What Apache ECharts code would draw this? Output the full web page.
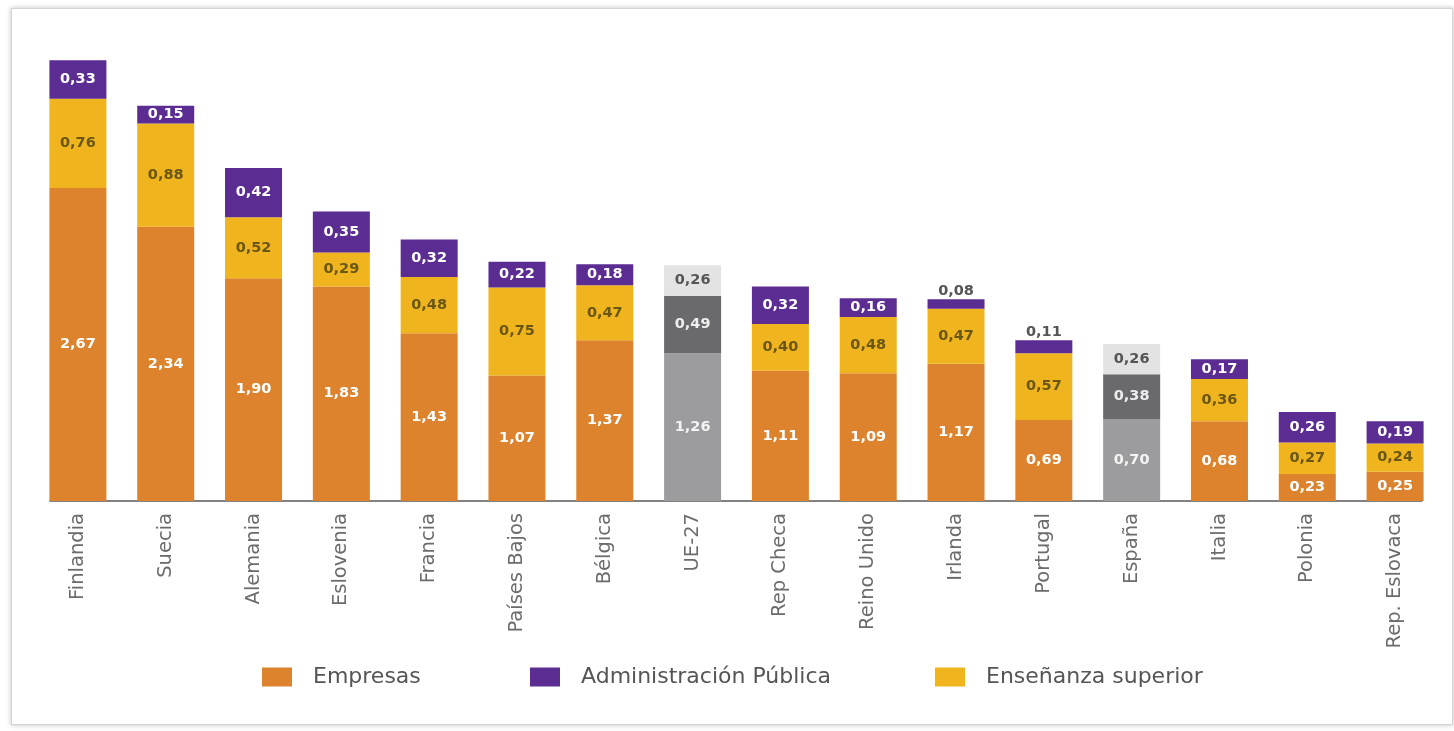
<!DOCTYPE html>
<html>
<head>
<meta charset="utf-8">
<script src="https://cdn.jsdelivr.net/npm/echarts@6/dist/echarts.min.js"></script>
<style>
  html, body { margin: 0; padding: 0; background: #fff; }
  #frame { position: absolute; left: 11px; top: 8px; width: 1440px; height: 715px;
           border: 1px solid #d4d4d4; box-shadow: 0 0 5px rgba(0,0,0,0.25); background: #fff; }
  #chart { position: absolute; left: 0; top: 0; width: 1454px; height: 731px; }
</style>
</head>
<body>
<div id="frame"></div>
<div id="chart"></div>
<script>
const categories = ['Finlandia','Suecia','Alemania','Eslovenia','Francia','Países Bajos','Bélgica','UE-27','Rep Checa','Reino Unido','Irlanda','Portugal','España','Italia','Polonia','Rep. Eslovaca'];
const empresas   = [2.67,2.34,1.90,1.83,1.43,1.07,1.37,1.26,1.11,1.09,1.17,0.69,0.70,0.68,0.23,0.25];
const ensenanza  = [0.76,0.88,0.52,0.29,0.48,0.75,0.47,0.49,0.40,0.48,0.47,0.57,0.38,0.36,0.27,0.24];
const admin      = [0.33,0.15,0.42,0.35,0.32,0.22,0.18,0.26,0.32,0.16,0.08,0.11,0.26,0.17,0.26,0.19];
const highlighted = ['UE-27','España'];
const seriesNames = ['Empresas','Enseñanza superior','Administración Pública'];

const COLORS = { emp: '#DD832D', ens: '#EFB41E', adm: '#5B2C92' };
const GREY = { emp: '#9c9c9e', ens: '#6a6a6c', adm: '#e3e3e3' };
const fmt = v => v.toFixed(2).replace('.', ',');

function makeData(values, key, greyLabelColor) {
  return values.map((v, i) => {
    const isGrey = highlighted.includes(categories[i]);
    const item = { value: v };
    if (isGrey) {
      item.itemStyle = { color: GREY[key] };
      item.label = { color: greyLabelColor };
    }
    if (key === 'adm' && !isGrey && v < 0.12) {
      item.label = { position: 'top', color: '#555', distance: 1 };
    }
    return item;
  });
}

const baseLabel = (color) => ({
  show: true, position: 'inside', color: color,
  fontFamily: 'DejaVu Sans', fontWeight: 'bold', fontSize: 14.5,
  formatter: p => fmt(p.value)
});

const chart = echarts.init(document.getElementById('chart'), null, { renderer: 'canvas' });
const legendCommon = {
  icon: 'rect', itemWidth: 30, itemHeight: 19, top: 661, selectedMode: false,
  textStyle: { fontFamily: 'DejaVu Sans', fontSize: 22, color: '#555', padding: [0, 0, 0, 16] }
};
chart.setOption({
  animation: false,
  backgroundColor: 'transparent',
  legend: [
    Object.assign({ left: 257, data: ['Empresas'] }, legendCommon),
    Object.assign({ left: 525, data: ['Administración Pública'] }, legendCommon),
    Object.assign({ left: 930, data: ['Enseñanza superior'] }, legendCommon)
  ],
  grid: [
    { left: 34, right: 15, top: 32, bottom: 230 },
    { left: 50, right: 32, top: 32, bottom: 230 }
  ],
  xAxis: [
    {
      type: 'category', data: categories, gridIndex: 0,
      axisLine: { show: false }, axisTick: { show: false },
      axisLabel: { rotate: 90, margin: 12, color: '#6b6b6b', fontFamily: 'DejaVu Sans', fontSize: 19.5, interval: 0 }
    },
    {
      type: 'category', data: [''], gridIndex: 1,
      axisLine: { show: true, lineStyle: { color: '#5a5a5a', width: 1.5 } },
      axisTick: { show: false }, axisLabel: { show: false }
    }
  ],
  yAxis: [
    { type: 'value', min: 0, max: 4, gridIndex: 0, show: false },
    { type: 'value', min: 0, max: 4, gridIndex: 1, show: false }
  ],
  series: [
    {
      name: seriesNames[0], type: 'bar', stack: 'total', barWidth: 57,
      itemStyle: { color: COLORS.emp }, label: baseLabel('#fff'),
      emphasis: { disabled: true },
      data: makeData(empresas, 'emp', '#f4f4f4')
    },
    {
      name: seriesNames[1], type: 'bar', stack: 'total', barWidth: 57,
      itemStyle: { color: COLORS.ens }, label: baseLabel('#6b5713'),
      emphasis: { disabled: true },
      data: makeData(ensenanza, 'ens', '#eeeeee')
    },
    {
      name: seriesNames[2], type: 'bar', stack: 'total', barWidth: 57,
      itemStyle: { color: COLORS.adm }, label: baseLabel('#fff'),
      emphasis: { disabled: true },
      data: makeData(admin, 'adm', '#555')
    },
    {
      type: 'bar', xAxisIndex: 1, yAxisIndex: 1, data: [], silent: true
    }
  ]
});
</script>
</body>
</html>
